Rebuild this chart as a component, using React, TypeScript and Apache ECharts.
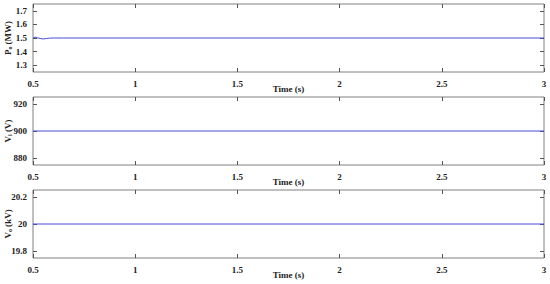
import React, { useEffect, useRef } from "react";
import * as echarts from "echarts";

const xTicks = [0.5, 1, 1.5, 2, 2.5, 3];
const poTime = [0.5, 0.51, 0.52, 0.535, 0.55, 0.565, 0.58, 0.6, 0.65, 3];
const poValues = [1.5, 1.506, 1.502, 1.497, 1.493, 1.496, 1.499, 1.5, 1.5, 1.5];
const viTime = [0.5, 3];
const viValues = [900, 900];
const voTime = [0.5, 3];
const voValues = [20, 20];

const panels = [
  { name: "{a|P}{s|o}{a| (MW)}", min: 1.25, max: 1.75, labels: [1.3, 1.4, 1.5, 1.6, 1.7], t: poTime, v: poValues, top: 4, dec: 1 },
  { name: "{a|V}{s|i}{a| (V)}", min: 875, max: 925, labels: [880, 900, 920], t: viTime, v: viValues, top: 97, dec: 0 },
  { name: "{a|V}{s|o}{a| (kV)}", min: 19.75, max: 20.25, labels: [19.8, 20, 20.2], t: voTime, v: voValues, top: 190, dec: 1 },
];

export default function App() {
  const ref = useRef<HTMLDivElement>(null);
  useEffect(() => {
    if (!ref.current) return;
    const chart = echarts.init(ref.current, null, { renderer: "svg" });
    const font = "Liberation Serif";
    const labelStyle = { fontFamily: font, fontWeight: "bold" as const, fontSize: 9, color: "#222" };
    const grids: any[] = [];
    const xAxes: any[] = [];
    const yAxes: any[] = [];
    const series: any[] = [];
    panels.forEach((p, i) => {
      grids.push({ left: 33, right: 6, top: p.top, height: 68, show: true, borderColor: "#808080", borderWidth: 1, backgroundColor: "#fff", containLabel: false, outerBoundsMode: "none" });
      const tick = { show: true, inside: true, length: 4, lineStyle: { color: "#555" } };
      const xBase = {
        type: "value", gridIndex: i, min: 0.5, max: 3, interval: 0.5,
        axisLine: { show: false },
        splitLine: { show: false },
      };
      xAxes.push({
        ...xBase, position: "bottom",
        axisLabel: { ...labelStyle, margin: 7, customValues: xTicks, formatter: (v: number) => String(v) },
        axisTick: { ...tick, customValues: xTicks },
        name: "Time (s)", nameLocation: "middle", nameGap: 12,
        nameTextStyle: { ...labelStyle },
        nameMoveOverlap: false,
      });
      xAxes.push({ ...xBase, position: "top", axisLabel: { show: false }, axisTick: { ...tick, customValues: xTicks } });
      const yBase = {
        type: "value", gridIndex: i, min: p.min, max: p.max,
        axisLine: { show: false },
        splitLine: { show: false },
        axisTick: { ...tick, customValues: p.labels },
      };
      yAxes.push({
        ...yBase, position: "left",
        axisLabel: { ...labelStyle, margin: 6, customValues: p.labels, formatter: (v: number) => (Math.abs(v - 20) < 1e-9 ? "20" : p.dec ? v.toFixed(p.dec) : String(v)) },
        name: p.name, nameLocation: "middle", nameGap: 20, nameRotate: 90,
        nameMoveOverlap: false,
        nameTextStyle: {
          rich: {
            a: { fontFamily: font, fontWeight: "bold", fontSize: 9, color: "#222" },
            s: { fontFamily: font, fontWeight: "bold", fontSize: 6, color: "#222", padding: [5, 0, 0, 0] },
          },
        },
      });
      yAxes.push({ ...yBase, position: "right", axisLabel: { show: false } });
      series.push({
        type: "line", xAxisIndex: i * 2, yAxisIndex: i * 2, showSymbol: false,
        lineStyle: { color: "#4b4bdc", width: 1 },
        data: p.t.map((t, k) => [t, p.v[k]]),
      });
    });
    chart.setOption({ animation: false, grid: grids, xAxis: xAxes, yAxis: yAxes, series });
    return () => chart.dispose();
  }, []);
  return <div ref={ref} style={{ width: 550, height: 284, position: "absolute", left: 0, top: 0, background: "#fff" }} />;
}
